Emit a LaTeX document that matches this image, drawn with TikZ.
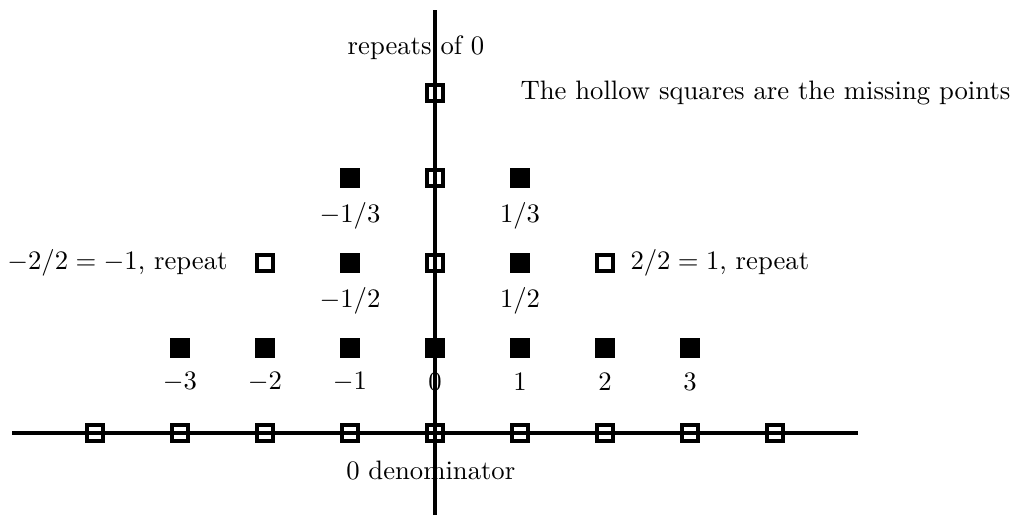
\documentclass[tikz,border=0pt]{standalone}
\begin{document}
\begin{tikzpicture}[x=1.12cm,y=1.12cm,
  hollow/.style={draw,line width=1.2pt,minimum size=6pt,inner sep=0pt},
  full/.style={fill,minimum size=7.6pt,inner sep=0pt},
  lab/.style={inner sep=0pt},
  axisline/.style={line width=1.2pt}]
\useasboundingbox (-5.118,-0.976) rectangle (6.859,5.094);
% hollow squares on the x axis
\foreach \i/\n in {-4/hm4,-3/hm3,-2/hm2,-1/hm1,0/h0,1/hp1,2/hp2,3/hp3,4/hp4}
  \node[hollow] (\n) at (\i,0) {};
% hollow squares on the y axis and the repeats
\node[hollow] (hy2) at (0,2) {};
\node[hollow] (hy3) at (0,3) {};
\node[hollow] (hy4) at (0,4) {};
\node[hollow] (hl) at (-2,2) {};
\node[hollow] (hr) at (2,2) {};
% filled squares
\foreach \i/\n in {-3/fm3,-2/fm2,-1/fm1,0/f0,1/fp1,2/fp2,3/fp3}
  \node[full] (\n) at (\i,1) {};
\node[full] (fm12) at (-1,2) {};
\node[full] (fp12) at (1,2) {};
\node[full] (fm13) at (-1,3) {};
\node[full] (fp13) at (1,3) {};
% labels
\foreach \i/\n/\t in {-3/lm3/$-3$,-2/lm2/$-2$,-1/lm1/$-1$,0/l0/$0$,1/lp1/$1$,2/lp2/$2$,3/lp3/$3$}
  \node[lab] (\n) at (\i,0.6) {\t};
\node[lab] (lm12) at (-1,1.55) {$-1/2$};
\node[lab] (lp12) at (1,1.55) {$1/2$};
\node[lab] (lm13) at (-1,2.55) {$-1/3$};
\node[lab] (lp13) at (1,2.55) {$1/3$};
\node[lab,anchor=east] (lrepl) at (-2.435,2) {$-2/2=-1$, repeat};
\node[lab,anchor=west] (lrepr) at (2.294,2) {$2/2=1$, repeat};
\node[lab] (lrep0) at (-0.224,4.53) {repeats of $0$};
\node[lab] (lden) at (-0.05,-0.435) {$0$ denominator};
\node[lab,anchor=west] (lnote) at (1.0,4.0) {The hollow squares are the missing points};
% axes
\coordinate (xl) at (-4.976,0);
\coordinate (xr) at (4.976,0);
\coordinate (yb) at (0,-0.965);
\coordinate (yt) at (0,4.976);
\draw[axisline] (xl) -- (xr);
\draw[axisline] (yb) -- (yt);
\end{tikzpicture}
\end{document}
